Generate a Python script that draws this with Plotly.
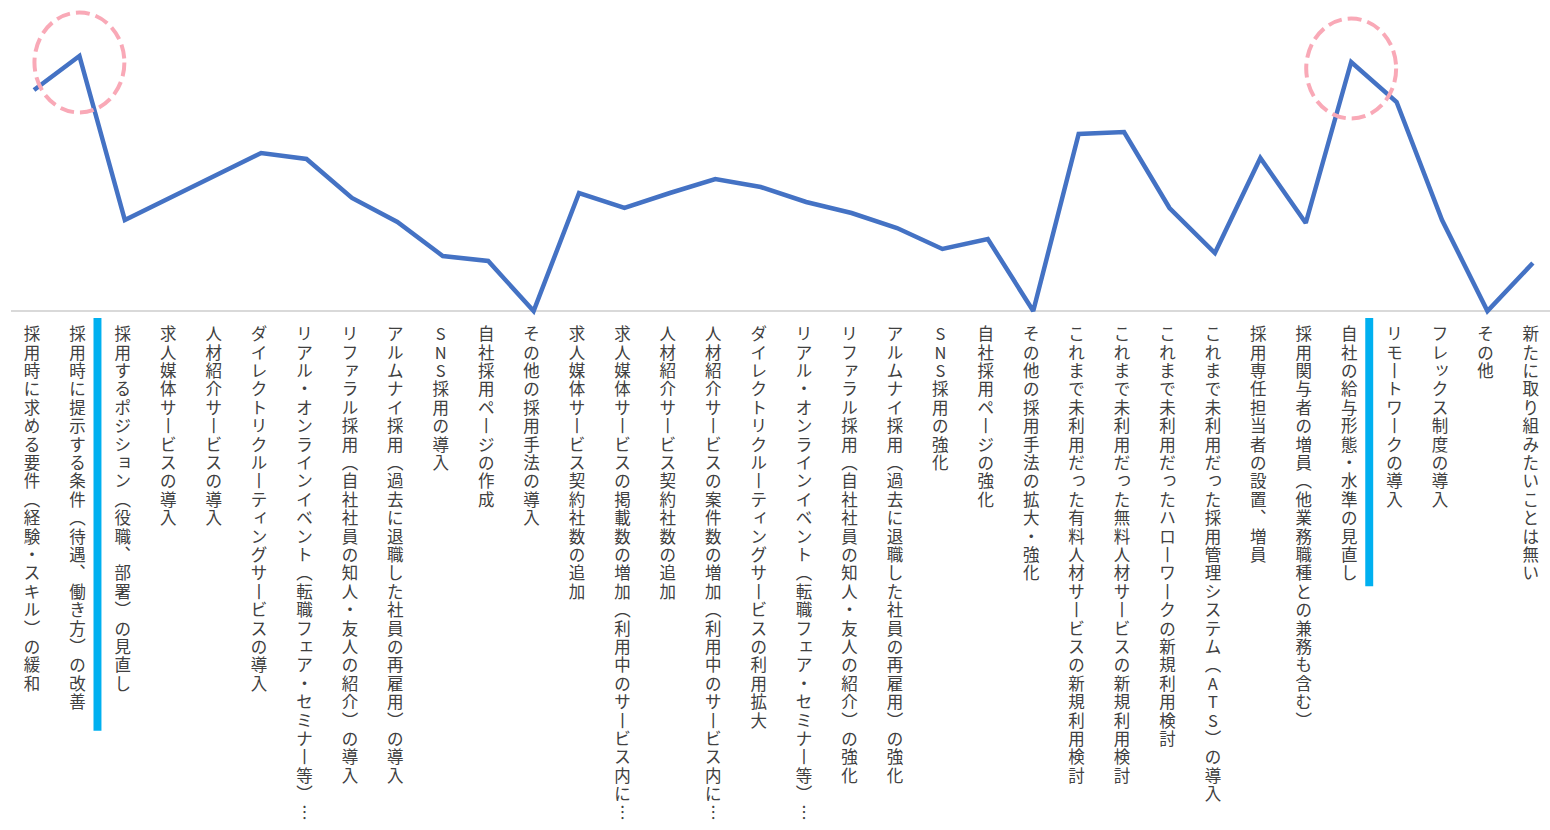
import plotly.graph_objects as go

# Survey items (displayed as vertical Japanese labels under the line)
categories = [
    "採用時に求める要件（経験・スキル）の緩和",
    "採用時に提示する条件（待遇、働き方）の改善",
    "採用するポジション（役職、部署）の見直し",
    "求人媒体サービスの導入",
    "人材紹介サービスの導入",
    "ダイレクトリクルーティングサービスの導入",
    "リアル・オンラインイベント（転職フェア・セミナー等）…",
    "リファラル採用（自社社員の知人・友人の紹介）の導入",
    "アルムナイ採用（過去に退職した社員の再雇用）の導入",
    "SNS採用の導入",
    "自社採用ページの作成",
    "その他の採用手法の導入",
    "求人媒体サービス契約社数の追加",
    "求人媒体サービスの掲載数の増加（利用中のサービス内に…",
    "人材紹介サービス契約社数の追加",
    "人材紹介サービスの案件数の増加（利用中のサービス内に…",
    "ダイレクトリクルーティングサービスの利用拡大",
    "リアル・オンラインイベント（転職フェア・セミナー等）…",
    "リファラル採用（自社社員の知人・友人の紹介）の強化",
    "アルムナイ採用（過去に退職した社員の再雇用）の強化",
    "SNS採用の強化",
    "自社採用ページの強化",
    "その他の採用手法の拡大・強化",
    "これまで未利用だった有料人材サービスの新規利用検討",
    "これまで未利用だった無料人材サービスの新規利用検討",
    "これまで未利用だったハローワークの新規利用検討",
    "これまで未利用だった採用管理システム（ATS）の導入",
    "採用専任担当者の設置、増員",
    "採用関与者の増員（他業務職種との兼務も含む）",
    "自社の給与形態・水準の見直し",
    "リモートワークの導入",
    "フレックス制度の導入",
    "その他",
    "新たに取り組みたいことは無い",
]

values = [
    22.1, 25.5, 9.1, 11.3, 13.5, 15.8, 15.2, 11.3, 8.9, 5.5,
    5.0, 0.0, 11.8, 10.3, 11.8, 13.2, 12.4, 10.9, 9.8, 8.3,
    6.2, 7.2, 0.0, 17.7, 17.9, 10.3, 5.8, 15.3, 8.8, 24.9,
    20.9, 9.1, 0.0, 4.8,
]

# Items emphasised with a dashed ring around the point and a bar beside the label
circled = [1, 29]
marked = [1, 29]

LINE_BLUE = "#4472C4"
RING_PINK = "#F9A9B7"
MARK_CYAN = "#00B0F0"
TEXT_GRAY = "#404040"
FONT = "Noto Sans CJK JP"

# Glyph substitutions for top-to-bottom writing
VERTICAL_FORMS = {"（": "︵", "）": "︶", "ー": "丨", "、": "︑", "…": "︙"}
SMALL_KANA = set("ァィゥェォッャュョヮぁぃぅぇぉっゃゅょ")

lx, ly, lt = [], [], []
for i, label in enumerate(categories):
    for k, ch in enumerate(label):
        dx, dy = -0.045, 0.0
        if ch in SMALL_KANA:
            dx, dy = 0.0, -0.12
        lx.append(i + dx)
        ly.append(k + dy)
        lt.append(VERTICAL_FORMS.get(ch, ch))

fig = go.Figure()

fig.add_trace(go.Scatter(
    x=list(range(len(categories))), y=values,
    mode="lines",
    line=dict(color=LINE_BLUE, width=4.5),
    xaxis="x", yaxis="y",
    hoverinfo="skip",
))

fig.add_trace(go.Scatter(
    x=lx, y=ly, text=lt,
    mode="text",
    textposition="middle center",
    textfont=dict(family=FONT, size=16.5, color=TEXT_GRAY),
    xaxis="x", yaxis="y2",
    cliponaxis=False,
    hoverinfo="skip",
))

shapes = [
    dict(type="line", xref="x domain", yref="y", x0=0, x1=1, y0=0, y1=0,
         line=dict(color="#D9D9D9", width=2), layer="below"),
]
for i in circled:
    cy = values[i] - 0.65
    shapes.append(dict(
        type="circle", xref="x", yref="y",
        x0=i - 0.99, x1=i + 0.99, y0=cy - 5.0, y1=cy + 5.0,
        line=dict(color=RING_PINK, width=4, dash="14px,6px"),
    ))
bar_end = {1: 21.45, 29: 13.6}
for i in marked:
    shapes.append(dict(
        type="rect", xref="x", yref="y2",
        x0=i + 0.31, x1=i + 0.485, y0=-0.98, y1=bar_end[i],
        fillcolor=MARK_CYAN, line=dict(width=0),
    ))

W, H = 1550, 830
px_per_cat = 45.42
x_left = 11
r0 = -(34 - x_left) / px_per_cat
r1 = r0 + (W - x_left) / px_per_cat

# label rows: first character centred at row0 px, one row per pitch px
row0, pitch = 336.0, 18.4
label_top = 316

fig.update_layout(
    width=W, height=H,
    margin=dict(l=0, r=0, t=0, b=0),
    paper_bgcolor="white", plot_bgcolor="rgba(0,0,0,0)",
    showlegend=False,
    font=dict(family=FONT, color=TEXT_GRAY),
    xaxis=dict(domain=[x_left / W, 1], range=[r0, r1], visible=False),
    yaxis=dict(domain=[(H - 316) / H, 1], range=[-0.5, 31.1], visible=False),
    yaxis2=dict(domain=[0, (H - label_top) / H], anchor="x",
                range=[(H - row0) / pitch, -(row0 - label_top) / pitch],
                visible=False),
    shapes=shapes,
)

fig.write_html("out.html")
